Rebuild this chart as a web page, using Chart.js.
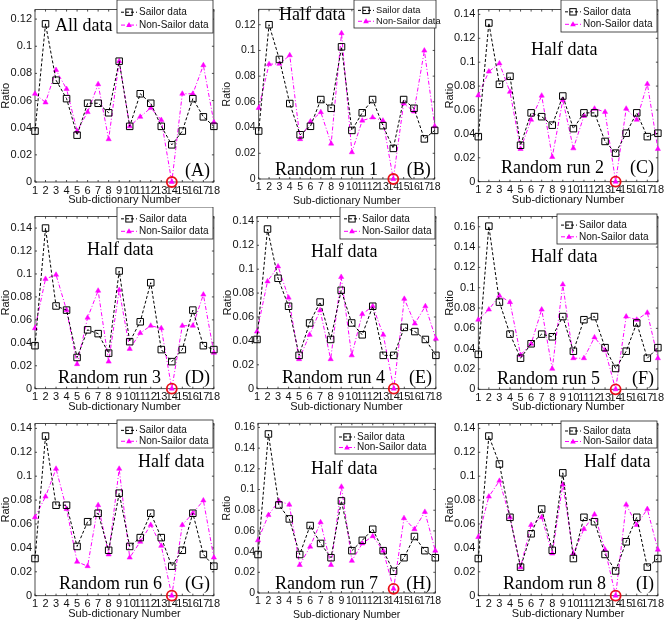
<!DOCTYPE html>
<html>
<head>
<meta charset="utf-8">
<script src="https://cdn.jsdelivr.net/npm/chart.js@4.4.1/dist/chart.umd.min.js"></script>
<style>
  body { margin: 0; background: #fff; }
  #wrap { position: relative; width: 666px; height: 621px; }
  .panel { position: absolute; width: 222px; height: 207px; }
</style>
</head>
<body>
<div id="wrap"></div>
<script>
// x categories
const subDictionary = ['1','2','3','4','5','6','7','8','9','10','11','12','13','14','15','16','17','18'];

// ratios
const sailorA    = [0.0375,0.1165,0.075,0.0614,0.0345,0.058,0.058,0.051,0.089,0.041,0.065,0.058,0.041,0.0274,0.0375,0.0614,0.048,0.041];
const nonSailorA = [0.065,0.0586,0.0825,0.0685,0.0375,0.0515,0.072,0.0315,0.089,0.041,0.048,0.0546,0.0457,0,0.065,0.065,0.086,0.044];
const sailorB    = [0.0373,0.12,0.093,0.0587,0.0344,0.041,0.0618,0.055,0.1028,0.0378,0.0515,0.0618,0.0415,0.0238,0.0618,0.055,0.0312,0.0378];
const nonSailorB = [0.0552,0.0893,0.0896,0.0962,0.031,0.0447,0.052,0.0275,0.1134,0.0208,0.0454,0.0479,0.0454,0,0.0587,0.0525,0.0999,0.041];
const sailorC    = [0.0377,0.1328,0.0815,0.0882,0.0305,0.0576,0.0544,0.0473,0.0717,0.0444,0.0576,0.0576,0.0337,0.0239,0.0406,0.0576,0.0377,0.0406];
const nonSailorC = [0.0722,0.0922,0.099,0.0752,0.0274,0.0518,0.072,0.0207,0.0683,0.0279,0.055,0.0611,0.0584,0,0.0611,0.0518,0.0818,0.0274];
const sailorD    = [0.0375,0.14,0.0721,0.0685,0.0272,0.0513,0.048,0.031,0.1026,0.041,0.0583,0.0924,0.0341,0.0236,0.0341,0.0685,0.0375,0.0341];
const nonSailorD = [0.0527,0.0957,0.0993,0.0685,0.0214,0.0619,0.0854,0.0236,0.086,0.0347,0.0485,0.0549,0.0527,0,0.0549,0.0549,0.082,0.0313];
const sailorE    = [0.0412,0.1336,0.0924,0.069,0.0279,0.055,0.0725,0.0412,0.0823,0.055,0.0451,0.069,0.0279,0.0279,0.0513,0.0478,0.0412,0.0279];
const nonSailorE = [0.0478,0.0898,0.1023,0.0762,0.0247,0.0451,0.0656,0.0247,0.0935,0.0279,0.0624,0.069,0.0451,0,0.0752,0.0545,0.069,0.0417];
const sailorF    = [0.0344,0.1606,0.0858,0.0543,0.0306,0.0448,0.0543,0.0517,0.0716,0.0375,0.0685,0.0716,0.041,0.0205,0.0375,0.0653,0.0306,0.041];
const nonSailorF = [0.0685,0.0785,0.0921,0.0858,0.0338,0.0448,0.0785,0.0202,0.1032,0.0306,0.0306,0.0511,0.0385,0,0.0716,0.0685,0.0754,0.0306];
const sailorG    = [0.0311,0.1336,0.0757,0.0757,0.0412,0.0619,0.069,0.038,0.0858,0.0412,0.0486,0.069,0.0486,0.0247,0.038,0.069,0.0345,0.0247];
const nonSailorG = [0.0656,0.0829,0.1062,0.0725,0.0284,0.0247,0.0757,0.0345,0.1062,0.0319,0.0451,0.0592,0.0417,0,0.0592,0.069,0.0797,0.0319];
const sailorH    = [0.0372,0.1537,0.0851,0.0716,0.0372,0.0652,0.0479,0.0341,0.089,0.0409,0.0509,0.0616,0.0409,0.021,0.0341,0.0546,0.0409,0.0341];
const nonSailorH = [0.0509,0.0753,0.089,0.0854,0.0271,0.0448,0.0683,0.0271,0.1027,0.0311,0.0479,0.0549,0.0409,0.004,0.0723,0.0616,0.0784,0.0409];
const sailorI    = [0.0311,0.1336,0.1102,0.0656,0.0239,0.0518,0.0725,0.038,0.1028,0.0311,0.0656,0.0619,0.0345,0.0207,0.0451,0.0656,0.0239,0.0311];
const nonSailorI = [0.0491,0.0829,0.0961,0.0656,0.0239,0.0592,0.0656,0.0353,0.093,0.0353,0.0558,0.068,0.0385,0,0.0762,0.0592,0.0725,0.0385];

const seriesNames = ['Sailor data', 'Non-Sailor data'];
const highlightIndex = 13; // sub-dictionary 14 circled in red

// layout of each sub-plot: plot box [left, top, right, bottom] inside its 222x207 cell
const panels = [
  { tag: '(A)', note: 'All data',  run: null,           sailor: sailorA, nonSailor: nonSailorA, yMax: 0.127, plot: [35, 1, 217, 182],     legend: [117, 0, 96, 33, 10],  fs: 11,   notePos: [55, 31],  runPos: null },
  { tag: '(B)', note: 'Half data', run: 'Random run 1', sailor: sailorB, nonSailor: nonSailorB, yMax: 0.132, plot: [36.7, 0, 212.7, 179], legend: [132, 0, 82, 28, 9.3],  fs: 10.5, notePos: [57, 20],  runPos: [53, 175] },
  { tag: '(C)', note: 'Half data', run: 'Random run 2', sailor: sailorC, nonSailor: nonSailorC, yMax: 0.144, plot: [34.3, 1, 216.7, 181.7], legend: [117, 0, 96, 32, 10], fs: 11,   notePos: [87, 55],  runPos: [57, 173] },
  { tag: '(D)', note: 'Half data', run: 'Random run 3', sailor: sailorD, nonSailor: nonSailorD, yMax: 0.150, plot: [35, 1, 216.7, 181.7],  legend: [117, 0, 96, 32, 10], fs: 11,   notePos: [87, 48],  runPos: [58, 176] },
  { tag: '(E)', note: 'Half data', run: 'Random run 4', sailor: sailorE, nonSailor: nonSailorE, yMax: 0.144, plot: [35, 1, 216.7, 181.7],  legend: [118, 0, 95, 32, 10], fs: 11,   notePos: [89, 50],  runPos: [60, 176] },
  { tag: '(F)', note: 'Half data', run: 'Random run 5', sailor: sailorF, nonSailor: nonSailorF, yMax: 0.170, plot: [34.3, 3, 217.3, 182.3], legend: [113, 7, 100, 30, 10], fs: 11,   notePos: [87, 55],  runPos: [53, 177] },
  { tag: '(G)', note: 'Half data', run: 'Random run 6', sailor: sailorG, nonSailor: nonSailorG, yMax: 0.144, plot: [35, 1.7, 216.7, 181.7], legend: [117, 6, 96, 28, 10], fs: 11,   notePos: [138, 53], runPos: [59, 175] },
  { tag: '(H)', note: 'Half data', run: 'Random run 7', sailor: sailorH, nonSailor: nonSailorH, yMax: 0.164, plot: [36, 0, 213.3, 179],    legend: [113, 13, 100, 27, 10], fs: 10.5, notePos: [89, 60], runPos: [53, 175] },
  { tag: '(I)', note: 'Half data', run: 'Random run 8', sailor: sailorI, nonSailor: nonSailorI, yMax: 0.144, plot: [34.3, 1, 216.7, 181.7], legend: [117, 7, 96, 27, 10], fs: 11,   notePos: [140, 53], runPos: [59, 175] }
];

const SANS = "'Liberation Sans', Arial, sans-serif";
const SERIF = "'Liberation Serif', 'Times New Roman', serif";
const MAGENTA = '#f0f';

// MATLAB-ish frame, inward ticks, legend box and text notes
const framePlugin = {
  id: 'frame',
  beforeDatasetsDraw(chart) {
    const { ctx, chartArea: a, scales: { x, y } } = chart;
    ctx.save();
    ctx.strokeStyle = '#222';
    ctx.lineWidth = 0.8;
    ctx.strokeRect(a.left, a.top, a.right - a.left, a.bottom - a.top);
    ctx.beginPath();
    x.ticks.forEach((t, i) => {
      const px = x.getPixelForTick(i);
      ctx.moveTo(px, a.bottom); ctx.lineTo(px, a.bottom - 2);
      ctx.moveTo(px, a.top); ctx.lineTo(px, a.top + 2);
    });
    y.ticks.forEach(t => {
      const py = y.getPixelForValue(t.value);
      ctx.moveTo(a.left, py); ctx.lineTo(a.left + 2, py);
      ctx.moveTo(a.right, py); ctx.lineTo(a.right - 2, py);
    });
    ctx.stroke();
    ctx.restore();
  },
  afterDraw(chart, args, opts) {
    const ctx = chart.ctx;
    const [bx, by, bw, bh, fs] = opts.legend;
    ctx.save();
    // legend
    ctx.fillStyle = '#fff';
    ctx.fillRect(bx, by, bw, bh);
    ctx.strokeStyle = '#222';
    ctx.lineWidth = 0.8;
    ctx.strokeRect(bx, by, bw, bh);
    const rows = [by + bh * 0.37, by + bh * 0.76];
    ctx.font = fs + 'px ' + SANS;
    ctx.textBaseline = 'middle';
    ctx.textAlign = 'left';
    rows.forEach((ry, i) => {
      const x0 = bx + 4, x1 = bx + 20, cx = (x0 + x1) / 2;
      ctx.beginPath();
      ctx.strokeStyle = i === 0 ? '#000' : MAGENTA;
      ctx.lineWidth = 1;
      ctx.setLineDash(i === 0 ? [3, 2] : [4, 2, 1, 2]);
      ctx.moveTo(x0, ry); ctx.lineTo(x1, ry);
      ctx.stroke();
      ctx.setLineDash([]);
      if (i === 0) {
        ctx.strokeRect(cx - 3.2, ry - 3.2, 6.4, 6.4);
      } else {
        ctx.fillStyle = MAGENTA;
        ctx.beginPath();
        ctx.moveTo(cx, ry - 3); ctx.lineTo(cx + 2.8, ry + 2); ctx.lineTo(cx - 2.8, ry + 2);
        ctx.closePath(); ctx.fill();
      }
      ctx.fillStyle = '#111';
      ctx.fillText(seriesNames[i], bx + 22, ry);
    });
    // notes
    ctx.font = '18px ' + SERIF;
    ctx.textBaseline = 'alphabetic';
    ctx.fillStyle = '#000';
    ctx.fillText(opts.note, opts.notePos[0], opts.notePos[1]);
    if (opts.run) ctx.fillText(opts.run, opts.runPos[0], opts.runPos[1]);
    ctx.textAlign = 'right';
    ctx.fillText(opts.tag, chart.chartArea.right - 4, opts.runPos ? opts.runPos[1] : 176);
    ctx.restore();
  }
};

const wrap = document.getElementById('wrap');

panels.forEach((p, k) => {
  const div = document.createElement('div');
  div.className = 'panel';
  div.style.left = (k % 3) * 222 + 'px';
  div.style.top = Math.floor(k / 3) * 207 + 'px';
  const canvas = document.createElement('canvas');
  canvas.width = 222;
  canvas.height = 207;
  canvas.style.width = '222px';
  canvas.style.height = '207px';
  div.appendChild(canvas);
  wrap.appendChild(div);

  const [pl, pt, pr, pb] = p.plot;
  const circled = p.nonSailor.map((v, i) => (i === highlightIndex ? v : null));

  new Chart(canvas, {
    type: 'line',
    data: {
      labels: subDictionary,
      datasets: [
        {
          label: 'highlight',
          data: circled,
          showLine: false,
          pointStyle: 'circle',
          pointRadius: 5,
          pointBorderWidth: 1.8,
          pointBorderColor: '#e8101a',
          pointBackgroundColor: 'rgba(0,0,0,0)',
          clip: false
        },
        {
          label: seriesNames[0],
          data: p.sailor,
          borderColor: '#000',
          borderWidth: 1,
          borderDash: [3, 2],
          tension: 0,
          pointStyle: 'rect',
          pointRadius: 4.6,
          pointBorderWidth: 1,
          pointBorderColor: '#000',
          pointBackgroundColor: 'rgba(0,0,0,0)',
          clip: false
        },
        {
          label: seriesNames[1],
          data: p.nonSailor,
          borderColor: MAGENTA,
          borderWidth: 1,
          borderDash: [4, 2, 1, 2],
          tension: 0,
          pointStyle: 'triangle',
          pointRadius: 3,
          pointBorderWidth: 0.5,
          pointBorderColor: MAGENTA,
          pointBackgroundColor: MAGENTA,
          clip: false
        }
      ]
    },
    options: {
      responsive: false,
      maintainAspectRatio: false,
      animation: false,
      devicePixelRatio: 1,
      events: [],
      layout: { padding: { top: pt, right: 222 - pr, left: 0, bottom: 0 } },
      scales: {
        x: {
          offset: false,
          grid: { display: false, drawTicks: false },
          border: { display: false },
          ticks: { autoSkip: false, maxRotation: 0, minRotation: 0, padding: 2, color: '#111', font: { family: SANS, size: p.fs } },
          title: { display: true, text: 'Sub-dictionary Number', color: '#111', padding: 0, font: { family: SANS, size: p.fs } },
          afterFit: s => { s.height = 207 - pb; }
        },
        y: {
          min: 0,
          max: p.yMax,
          grid: { display: false, drawTicks: false },
          border: { display: false },
          ticks: {
            stepSize: 0.02,
            includeBounds: false,
            autoSkip: false,
            padding: 3,
            color: '#111',
            font: { family: SANS, size: p.fs },
            callback: v => String(parseFloat(v.toFixed(2)))
          },
          title: { display: true, text: 'Ratio', color: '#111', padding: 0, font: { family: SANS, size: p.fs, lineHeight: 1 } },
          afterFit: s => { s.width = pl; }
        }
      },
      plugins: {
        legend: { display: false },
        tooltip: { enabled: false },
        frame: { legend: p.legend, note: p.note, notePos: p.notePos, run: p.run, runPos: p.runPos, tag: p.tag }
      }
    },
    plugins: [framePlugin]
  });
});
</script>
</body>
</html>
